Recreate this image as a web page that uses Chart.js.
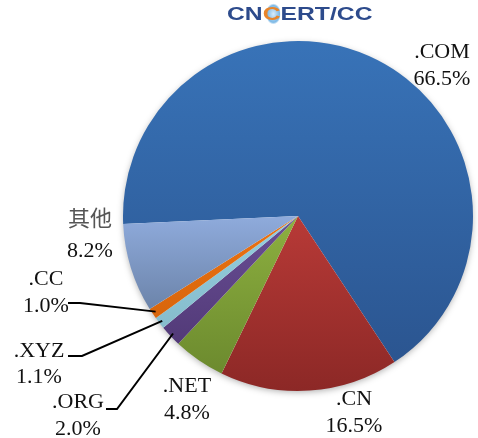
<!DOCTYPE html>
<html>
<head>
<meta charset="utf-8">
<script src="https://cdn.jsdelivr.net/npm/chart.js@4.4.1/dist/chart.umd.min.js"></script>
<style>
  html, body { margin: 0; padding: 0; background: #fff; }
  #wrap { position: relative; width: 478px; height: 438px; }
  #logo {
    position: absolute; left: 227px; top: 4px;
    font: bold 19px "Liberation Sans", Arial, sans-serif; line-height: 1;
    color: #2d4b8c; white-space: nowrap;
    transform: scaleX(1.3); transform-origin: left top;
  }
  #logo .globe {
    color: #e8842a;
    background: radial-gradient(ellipse 42% 50% at 62% 52%, #d8ecfa 0, #7db9e6 80%, rgba(125,185,230,0) 100%);
  }
</style>
</head>
<body>
<div id="wrap">
  <canvas id="pieChart" width="478" height="438"></canvas>
  <div id="logo">CN<span class="globe">C</span>ERT/CC</div>
</div>
<script>
const categories = ['.COM', '.CN', '.NET', '.ORG', '.XYZ', '.CC', '其他'];
const shares = [66.5, 16.5, 4.8, 2.0, 1.1, 1.0, 8.2];
const shareLabels = ['66.5%', '16.5%', '4.8%', '2.0%', '1.1%', '1.0%', '8.2%'];

const topColors = ['#3873b8', '#b83a37', '#8db040', '#6a4f96', '#95cfe0', '#ec7415', '#8fabdc'];
const bottomColors = ['#2b5590', '#8c2826', '#6c8a2e', '#523a78', '#86bccc', '#d8650b', '#6c84aa'];

const rotation = 267.4;

// label text spots: x centre, baselines of both lines, optional leader start [x, y, kneeX]
const labelSpots = [
  { x: 442, y1: 58, y2: 85 },
  { x: 354, y1: 405, y2: 432 },
  { x: 187, y1: 392, y2: 419 },
  { x: 78, y1: 408, y2: 435, lead: [106, 409, 117] },
  { x: 39, y1: 357, y2: 383, lead: [68, 356, 82] },
  { x: 46, y1: 285, y2: 312, lead: [68, 303, 80] },
  { x: 90, y1: 226, y2: 257 },
];

function sliceFill(c) {
  const i = c.dataIndex;
  const area = c.chart.chartArea;
  if (!area) return topColors[i];
  const cx = (area.left + area.right) / 2, cy = (area.top + area.bottom) / 2;
  const r = Math.min(area.right - area.left, area.bottom - area.top) / 2;
  const total = shares.reduce((a, b) => a + b, 0);
  const before = shares.slice(0, i).reduce((a, b) => a + b, 0);
  const a0 = (rotation - 90) * Math.PI / 180 + before / total * 2 * Math.PI;
  const a1 = a0 + shares[i] / total * 2 * Math.PI;
  const ys = [cy, cy + r * Math.sin(a0), cy + r * Math.sin(a1)];
  for (let k = -2; k <= 6; k++) {
    const t = Math.PI / 2 + k * Math.PI;
    if (t > a0 && t < a1) ys.push(cy + r * Math.sin(t));
  }
  const g = c.chart.ctx.createLinearGradient(0, Math.min(...ys), 0, Math.max(...ys));
  g.addColorStop(0, topColors[i]);
  g.addColorStop(1, bottomColors[i]);
  return g;
}

const pieShadow = {
  id: 'pieShadow',
  beforeDatasetsDraw(chart) {
    const arc = chart.getDatasetMeta(0).data[0];
    if (!arc) return;
    const ctx = chart.ctx;
    ctx.save();
    ctx.shadowColor = 'rgba(0,0,0,0.35)';
    ctx.shadowBlur = 7;
    ctx.shadowOffsetY = 2;
    ctx.beginPath();
    ctx.arc(arc.x, arc.y, arc.outerRadius - 1, 0, Math.PI * 2);
    ctx.fillStyle = '#fff';
    ctx.fill();
    ctx.restore();
  }
};

const sliceLabels = {
  id: 'sliceLabels',
  afterDatasetsDraw(chart) {
    const ctx = chart.ctx;
    const arcs = chart.getDatasetMeta(0).data;
    ctx.save();
    ctx.font = '22px "Liberation Serif", "Times New Roman", "Noto Sans CJK SC", serif';
    ctx.textAlign = 'center';
    ctx.textBaseline = 'alphabetic';
    arcs.forEach((arc, i) => {
      const s = labelSpots[i];
      // the CJK fallback is heavier than the original's song face, so tone it down
      ctx.fillStyle = /[\u4e00-\u9fff]/.test(categories[i]) ? '#555' : '#111';
      ctx.fillText(categories[i], s.x, s.y1);
      ctx.fillStyle = '#111';
      ctx.fillText(shareLabels[i], s.x, s.y2);
      if (s.lead) {
        const p = arc.getProps(['x', 'y', 'startAngle', 'endAngle', 'outerRadius']);
        const mid = (p.startAngle + p.endAngle) / 2;
        const ex = p.x + Math.cos(mid) * p.outerRadius * 0.98;
        const ey = p.y + Math.sin(mid) * p.outerRadius * 0.98;
        ctx.beginPath();
        ctx.moveTo(s.lead[0], s.lead[1]);
        ctx.lineTo(s.lead[2], s.lead[1]);
        ctx.lineTo(ex, ey);
        ctx.lineWidth = 2;
        ctx.strokeStyle = '#000';
        ctx.stroke();
      }
    });
    ctx.restore();
  }
};

new Chart(document.getElementById('pieChart').getContext('2d'), {
  type: 'pie',
  data: {
    labels: categories,
    datasets: [{
      data: shares,
      backgroundColor: sliceFill,
      borderWidth: 0
    }]
  },
  options: {
    responsive: false,
    animation: false,
    rotation: rotation,
    layout: { padding: { left: 123, right: 5, top: 41, bottom: 47 } },
    plugins: {
      legend: { display: false },
      tooltip: { enabled: false }
    }
  },
  plugins: [pieShadow, sliceLabels]
});
</script>
</body>
</html>
